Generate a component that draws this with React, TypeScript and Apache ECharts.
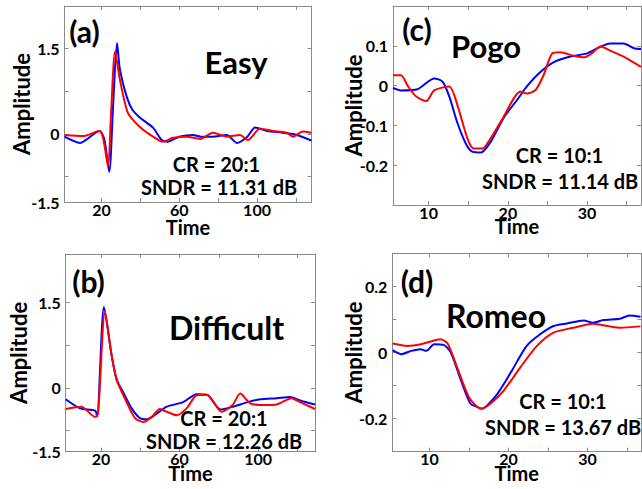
import React, { useEffect, useRef } from "react";
import * as echarts from "echarts";

// ---------- Panel (a) Easy ----------
const aBlueT = [1, 9, 19, 21.5, 24, 26, 28, 29.5, 33, 36, 40, 46.5, 51, 54, 60, 67, 71, 77, 84.5, 89.7, 95, 99, 105, 113, 120.5, 128];
const aBlueV = [-0.05, -0.16, 0.05, -0.1, -0.67, 0.5, 1.6, 1.13, 0.65, 0.42, 0.28, 0.11, -0.11, -0.14, -0.05, -0.02, -0.05, -0.05, -0.02, -0.16, -0.05, 0.11, 0.05, 0.02, -0.02, -0.12];
const aRedT = [1, 10.5, 19, 21, 23.4, 25, 27, 29.5, 33.6, 39.8, 46.5, 51.6, 56.8, 64, 70.7, 77.4, 84.5, 91.2, 95.3, 101.5, 108.2, 115.4, 118.5, 123.6, 128];
const aRedV = [-0.02, -0.04, 0.05, -0.1, -0.58, 0.4, 1.45, 0.95, 0.37, 0.12, -0.05, -0.14, -0.07, -0.05, -0.09, 0.02, -0.05, -0.02, -0.11, 0.09, 0.05, 0.02, -0.05, 0.04, 0.02];

// ---------- Panel (b) Difficult ----------
const bBlueT = [2, 9.3, 17, 18, 21.5, 25.4, 28, 31.2, 35.6, 39.8, 43.3, 48.4, 53.5, 61.8, 68.7, 74, 81, 87, 94.9, 101, 109.5, 116.3, 121.4, 129];
const bBlueV = [-0.2, -0.36, -0.4, -0.5, 1.42, 0.57, 0.14, -0.07, -0.36, -0.53, -0.55, -0.45, -0.33, -0.25, -0.11, -0.12, -0.38, -0.33, -0.25, -0.2, -0.18, -0.16, -0.22, -0.29];
const bRedT = [2, 10, 17, 18.5, 22, 25.4, 28, 33, 37.3, 41.5, 45.8, 50, 53.5, 58.5, 63.6, 68.7, 73.8, 81.5, 87, 90.9, 96, 102.6, 109.5, 117, 121.4, 129];
const bRedV = [-0.37, -0.33, -0.51, -0.45, 1.34, 0.57, 0.14, -0.25, -0.53, -0.6, -0.51, -0.37, -0.42, -0.48, -0.36, -0.13, -0.12, -0.42, -0.3, -0.1, -0.27, -0.3, -0.29, -0.18, -0.25, -0.37];

// ---------- Panel (c) Pogo ----------
const cBlueT = [5.5, 6.5, 8.6, 10.7, 11.75, 12.6, 13.6, 14.7, 15.5, 16.6, 17.8, 19.5, 21.2, 22.4, 24.1, 25.8, 27.9, 30, 31.7, 32.9, 34.6, 35.9, 36.8];
const cBlueV = [-0.006, -0.012, -0.009, 0.018, 0.01, -0.027, -0.092, -0.146, -0.166, -0.168, -0.142, -0.08, -0.035, -0.002, 0.034, 0.059, 0.073, 0.081, 0.098, 0.106, 0.106, 0.094, 0.092];
const cRedT = [5.5, 6.5, 7.4, 8.4, 9.7, 10.7, 12.6, 13.6, 14.9, 15.7, 16.8, 17.8, 19.3, 21.6, 22.4, 23.5, 24.5, 25.6, 26.6, 28.3, 29.6, 30.6, 31.7, 32.9, 34.6, 36.8];
const cRedV = [0.026, 0.026, -0.002, -0.027, -0.039, -0.012, -0.002, -0.047, -0.133, -0.158, -0.158, -0.133, -0.084, -0.015, -0.02, -0.011, 0.026, 0.081, 0.084, 0.075, 0.071, 0.081, 0.098, 0.088, 0.073, 0.047];

// ---------- Panel (d) Romeo ----------
const dBlueT = [5.35, 6.4, 7.7, 8.9, 9.6, 10.6, 11.8, 12.7, 14, 15.2, 16.1, 16.7, 17.3, 18.6, 20.3, 22.3, 24, 25.7, 27.4, 29.5, 30.7, 32, 34.1, 35.3, 36.7];
const dBlueV = [0.007, -0.005, 0.005, 0.01, 0.005, 0.025, 0.023, 0, -0.085, -0.155, -0.165, -0.17, -0.16, -0.125, -0.06, 0.02, 0.055, 0.08, 0.088, 0.097, 0.09, 0.098, 0.102, 0.112, 0.108];
const dRedT = [5.35, 7.2, 8.9, 11.4, 12.3, 13.5, 15, 16.5, 17.7, 19.4, 21.5, 23.6, 25.7, 28.2, 30.7, 32.8, 34.1, 36.7];
const dRedV = [0.027, 0.02, 0.025, 0.04, 0.027, -0.045, -0.135, -0.17, -0.155, -0.115, -0.045, 0.02, 0.06, 0.075, 0.087, 0.079, 0.075, 0.079];

// ---------- Axis ticks / labels ----------
const xTicksLong = [20, 40, 60, 80, 100, 120];
const xLabelsLong = [20, 60, 100];
const xTicksShort = [10, 15, 20, 25, 30, 35];
const xLabelsShort = [10, 20, 30];

const yTicksAB = [-0.75, 0, 0.75, 1.5];
const yLabelValsA = [-1.2, 0, 1.5];
const yLabelValsB = [-1.12, 0, 1.5];
const yLabelTextsAB = ["-1.5", "0", "1.5"];
const yTicksC = [-0.2, -0.1, 0, 0.1];
const yLabelsC = [-0.2, -0.1, 0, 0.1];
const yTicksD = [-0.2, -0.1, 0, 0.1, 0.2];
const yLabelsD = [-0.2, 0, 0.2];

const panelTags = ["(a)", "(b)", "(c)", "(d)"];
const panelNames = ["Easy", "Difficult", "Pogo", "Romeo"];
const crTexts = ["CR = 20:1", "CR = 20:1", "CR = 10:1", "CR = 10:1"];
const sndrTexts = ["SNDR = 11.31 dB", "SNDR = 12.26 dB", "SNDR = 11.14 dB", "SNDR = 13.67 dB"];

const FONT = "Lato";
const BLUE = "#0000ff";
const RED = "#ff0000";
const AXIS_COLOR = "#8a8a8a";

const zip = (t: number[], v: number[]) => t.map((x, i) => [x, v[i]]);

export default function App() {
  const ref = useRef<HTMLDivElement>(null);
  useEffect(() => {
    if (!ref.current) return;
    const chart = echarts.init(ref.current, null, { renderer: "svg" });

    const grids = [
      { left: 64.5, top: 6, width: 247, height: 196 },
      { left: 65.7, top: 254, width: 249.3, height: 197.7 },
      { left: 393, top: 6, width: 248, height: 199 },
      { left: 392.3, top: 253.3, width: 249, height: 198.4 },
    ];
    const xRanges = [
      [1, 128],
      [2, 129],
      [5.5, 36.8],
      [5.3, 36.8],
    ];
    const yRanges = [
      [-1.2, 2.25],
      [-1.12, 2.35],
      [-0.3, 0.2],
      [-0.3, 0.3],
    ];
    const xTicks = [xTicksLong, xTicksLong, xTicksShort, xTicksShort];
    const xLabels = [xLabelsLong, xLabelsLong, xLabelsShort, xLabelsShort];
    const yTicks = [yTicksAB, yTicksAB, yTicksC, yTicksD];
    const yLabels = [yLabelValsA, yLabelValsB, yLabelsC, yLabelsD];
    const yFormat = [
      (v: number) => yLabelTextsAB[yLabelValsA.indexOf(v)] ?? String(v),
      (v: number) => yLabelTextsAB[yLabelValsB.indexOf(v)] ?? String(v),
      (v: number) => String(v),
      (v: number) => String(v),
    ];
    const xNameGap = [18.5, 15, 15, 15];
    const yNameGap = [32.5, 36.5, 29, 28.3];

    const tickStyle = { show: true, inside: true, length: 4, lineStyle: { color: AXIS_COLOR, width: 1 } };
    const lineStyle = { show: true, lineStyle: { color: AXIS_COLOR, width: 1 } };
    const labelFont = { color: "#000", fontFamily: FONT, fontWeight: "bold" as const, fontSize: 16 };

    const xAxis: any[] = [];
    const yAxis: any[] = [];
    grids.forEach((_, i) => {
      xAxis.push({
        type: "value",
        gridIndex: i,
        position: "bottom",
        min: xRanges[i][0],
        max: xRanges[i][1],
        axisLine: { ...lineStyle, onZero: false },
        axisTick: { ...tickStyle, customValues: xTicks[i] },
        axisLabel: { ...labelFont, customValues: xLabels[i], margin: 2, lineHeight: 10 },
        splitLine: { show: false },
        name: "Time",
        nameLocation: "middle",
        nameGap: xNameGap[i],
        nameMoveOverlap: false,
        nameTextStyle: { color: "#000", fontFamily: FONT, fontWeight: "bold", fontSize: 20, lineHeight: 12 },
      });
      xAxis.push({
        type: "value",
        gridIndex: i,
        position: "top",
        min: xRanges[i][0],
        max: xRanges[i][1],
        axisLine: { ...lineStyle, onZero: false },
        axisTick: { ...tickStyle, customValues: xTicks[i] },
        axisLabel: { show: false },
        splitLine: { show: false },
      });
      yAxis.push({
        type: "value",
        gridIndex: i,
        position: "left",
        min: yRanges[i][0],
        max: yRanges[i][1],
        axisLine: { ...lineStyle, onZero: false },
        axisTick: { ...tickStyle, customValues: yTicks[i] },
        axisLabel: { ...labelFont, customValues: yLabels[i], margin: 5, lineHeight: 12, formatter: yFormat[i] },
        splitLine: { show: false },
        name: "Amplitude",
        nameLocation: "middle",
        nameGap: yNameGap[i],
        nameMoveOverlap: false,
        nameTextStyle: { color: "#000", fontFamily: FONT, fontWeight: "bold", fontSize: 22, lineHeight: 22 },
      });
      yAxis.push({
        type: "value",
        gridIndex: i,
        position: "right",
        min: yRanges[i][0],
        max: yRanges[i][1],
        axisLine: { ...lineStyle, onZero: false },
        axisTick: { ...tickStyle, customValues: yTicks[i] },
        axisLabel: { show: false },
        splitLine: { show: false },
      });
    });

    const blues = [zip(aBlueT, aBlueV), zip(bBlueT, bBlueV), zip(cBlueT, cBlueV), zip(dBlueT, dBlueV)];
    const reds = [zip(aRedT, aRedV), zip(bRedT, bRedV), zip(cRedT, cRedV), zip(dRedT, dRedV)];
    const series: any[] = [];
    grids.forEach((_, i) => {
      series.push({
        type: "line",
        name: "Original",
        xAxisIndex: 2 * i,
        yAxisIndex: 2 * i,
        data: blues[i],
        showSymbol: false,
        smooth: 0.25,
        lineStyle: { color: BLUE, width: 2 },
        itemStyle: { color: BLUE },
      });
      series.push({
        type: "line",
        name: "Reconstructed",
        xAxisIndex: 2 * i,
        yAxisIndex: 2 * i,
        data: reds[i],
        showSymbol: false,
        smooth: 0.25,
        lineStyle: { color: RED, width: 2 },
        itemStyle: { color: RED },
      });
    });

    const tagPos = [
      [84.5, 31],
      [88.5, 281],
      [417, 29],
      [417, 281],
    ];
    const namePos = [
      [236, 62],
      [226.5, 327],
      [486, 46],
      [496, 315],
    ];
    const crPos = [
      [216.5, 164],
      [224, 418],
      [559.5, 155],
      [563, 401],
    ];
    const sndrPos = [
      [219, 187],
      [224, 441],
      [560, 181],
      [563, 427],
    ];
    const graphic: any[] = [];
    const txt = (s: string, x: number, y: number, size: number) => ({
      type: "text",
      x,
      y,
      z: 100,
      style: {
        text: s,
        fill: "#000",
        font: `bold ${size}px ${FONT}`,
        lineHeight: Math.round(size * 0.9),
        textAlign: "center",
        textVerticalAlign: "middle",
      },
    });
    for (let i = 0; i < 4; i++) {
      graphic.push(txt(panelTags[i], tagPos[i][0], tagPos[i][1], 30));
      graphic.push(txt(panelNames[i], namePos[i][0], namePos[i][1], i === 1 || i === 3 ? 32 : 31));
      graphic.push(txt(crTexts[i], crPos[i][0], crPos[i][1], 20));
      graphic.push(txt(sndrTexts[i], sndrPos[i][0], sndrPos[i][1], 20));
    }

    chart.setOption({
      animation: false,
      backgroundColor: "#fff",
      grid: grids.map((g) => ({ ...g, containLabel: false })),
      xAxis,
      yAxis,
      series,
      graphic,
    });
    return () => chart.dispose();
  }, []);

  return (
    <div
      ref={ref}
      style={{ position: "fixed", left: 0, top: 0, width: 642, height: 489, background: "#fff" }}
    />
  );
}
